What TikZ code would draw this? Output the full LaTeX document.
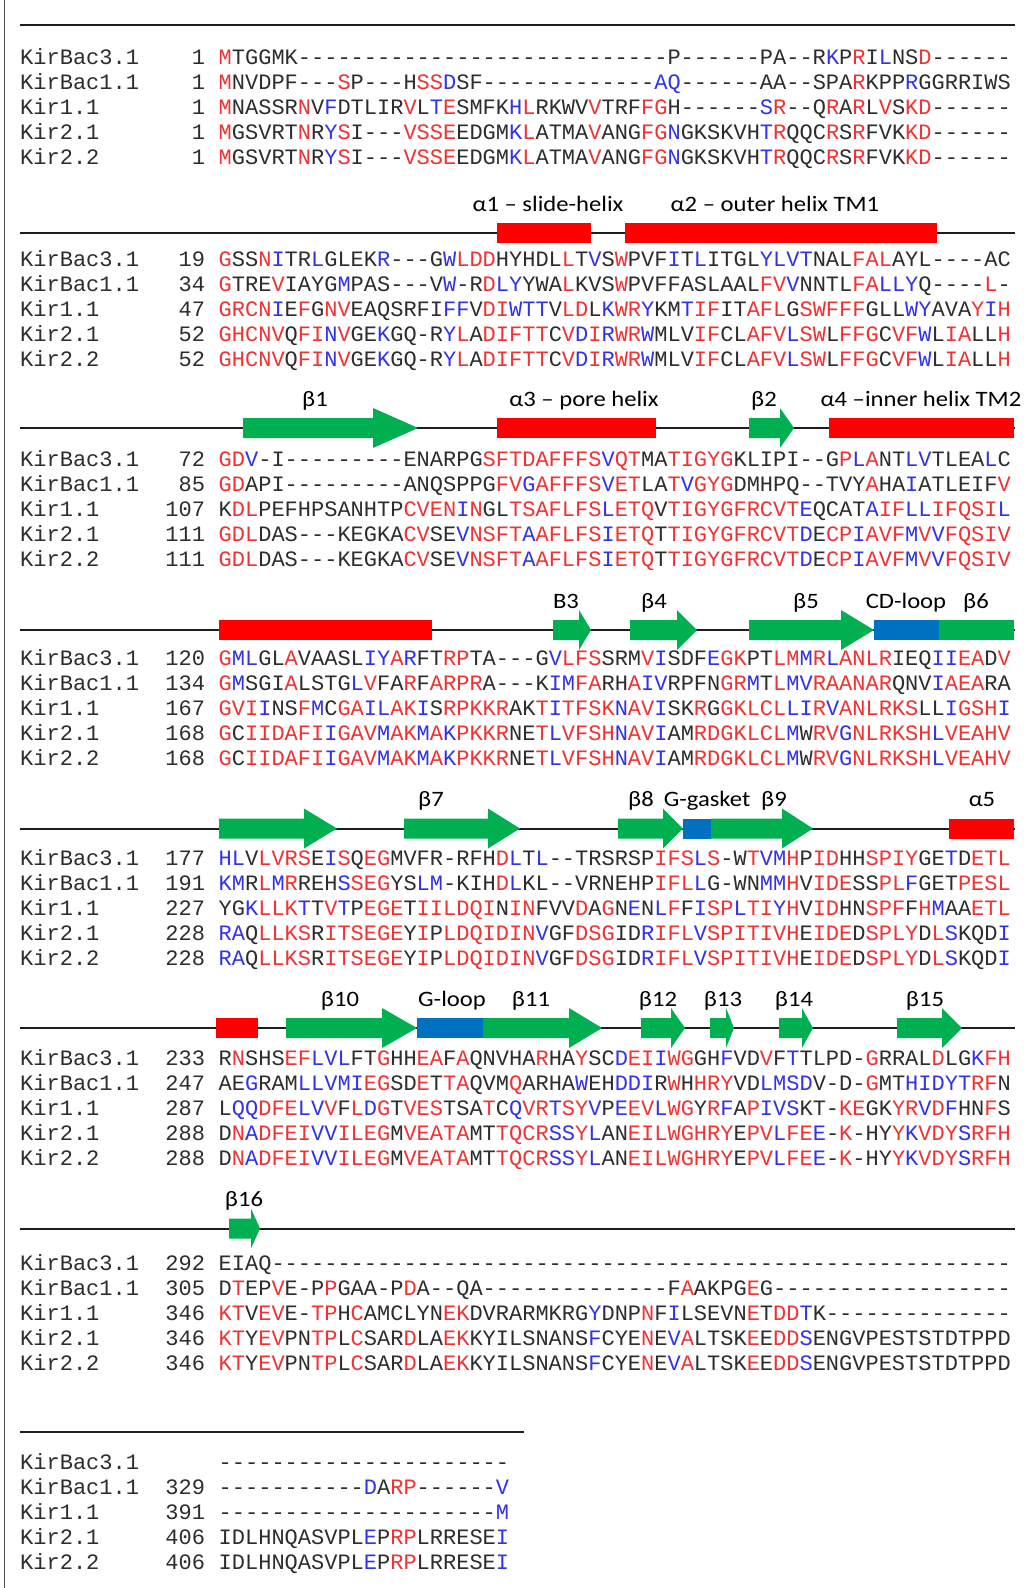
\documentclass[tikz,border=0pt]{standalone}
\usepackage{fontspec}
\usepackage{graphicx}
\setmonofont{Liberation Mono}
\newfontfamily\lblfont{Carlito}
\definecolor{txt}{RGB}{45,45,45}
\definecolor{sr}{RGB}{240,50,50}
\definecolor{sb}{RGB}{50,50,235}
\definecolor{hred}{RGB}{255,0,0}
\definecolor{sgreen}{RGB}{0,176,80}
\definecolor{lblue}{RGB}{0,112,192}
\definecolor{linec}{RGB}{30,30,30}
\newcommand\Rd[1]{\textcolor{sr}{#1}}
\newcommand\Bl[1]{\textcolor{sb}{#1}}
\ExplSyntaxOn
\cs_new:Npn \dsh #1 { \prg_replicate:nn {#1} {-} }
\ExplSyntaxOff
\tikzset{
  seqtxt/.style={inner sep=0pt, text=txt, font=\ttfamily\fontsize{22}{22}\selectfont},
  nm/.style={seqtxt, anchor=base west},
  nr/.style={seqtxt, anchor=base east},
  sq/.style={seqtxt, anchor=base west},
  lbl/.style={inner sep=0pt, anchor=base, text=black, font=\lblfont\fontsize{22}{22}\selectfont},
  seqline/.style={draw=linec, line width=2pt},
  hbar/.style={fill=hred},
  sarrow/.style={fill=sgreen},
  loopbar/.style={fill=lblue},
}
\newcommand\seqrow[5]{%
  \node[nm] (nm-#1) at (20,#2) {#3};
  \node[nr] (nr-#1) at (205.3,#2) {#4};
  \node[sq] (sq-#1) at (218.5,#2) {#5};}
\newcommand\strand[4]{% x1, head start, tip, y
  \fill[sarrow] (#1,#4-10) -- (#2,#4-10) -- (#2,#4-20) -- (#3,#4) -- (#2,#4+20) -- (#2,#4+10) -- (#1,#4+10) -- cycle;}
\newcommand\helix[3]{\fill[hbar] (#1,#3-10) rectangle (#2,#3+10);}
\newcommand\loopb[3]{\fill[loopbar] (#1,#3-10) rectangle (#2,#3+10);}
\newcommand\lab[4]{\node[lbl] (#1) at (#2,#3) {\scalebox{1.12}[1]{#4}};}
\begin{document}
\begin{tikzpicture}[x=1pt,y=-1pt]
\useasboundingbox (0,0) rectangle (1026,1588);
\fill[white] (0,0) rectangle (1026,1588);
\draw[draw=black!70, line width=1.5pt] (4.5,0) -- (4.5,1588);
% top line
\draw[seqline] (20,25.3) -- (1015,25.3);
% ---------- block 1
\seqrow{1a}{64.3}{KirBac3.1}{1}{\Rd{M}TGGMK\dsh{28}P\dsh{6}PA\dsh{2}R\Bl{K}P\Rd{R}I\Bl{L}NS\Rd{D}\dsh{6}}
\seqrow{1b}{89.3}{KirBac1.1}{1}{\Rd{M}NVDPF\dsh{3}\Rd{S}P\dsh{3}H\Rd{SS}\Bl{D}SF\dsh{13}\Bl{AQ}\dsh{6}AA\dsh{2}SPA\Rd{R}KPP\Bl{R}GGRRIWS}
\seqrow{1c}{114.3}{Kir1.1}{1}{\Rd{M}NASSR\Rd{N}V\Bl{F}DTLIR\Rd{V}L\Bl{T}\Rd{E}SMFK\Bl{H}\Rd{L}RKWV\Rd{V}TRF\Rd{FG}H\dsh{6}\Bl{S}\Rd{R}\dsh{2}Q\Rd{R}A\Rd{R}L\Rd{V}S\Rd{KD}\dsh{6}}
\seqrow{1d}{139.3}{Kir2.1}{1}{\Rd{M}GSVRT\Rd{N}R\Bl{Y}\Rd{S}I\dsh{3}\Rd{VSSE}EDGM\Bl{K}\Rd{L}ATMA\Rd{V}ANG\Rd{FG}\Bl{N}GKSKVH\Bl{T}\Rd{R}QQC\Rd{R}S\Rd{R}FVK\Rd{KD}\dsh{6}}
\seqrow{1e}{164.3}{Kir2.2}{1}{\Rd{M}GSVRT\Rd{N}R\Bl{Y}\Rd{S}I\dsh{3}\Rd{VSSE}EDGM\Bl{K}\Rd{L}ATMA\Rd{V}ANG\Rd{FG}\Bl{N}GKSKVH\Bl{T}\Rd{R}QQC\Rd{R}S\Rd{R}FVK\Rd{KD}\dsh{6}}
% ---------- block 2
\draw[seqline] (20,233) -- (1015,233);
\helix{497}{591}{233}
\helix{625}{937}{233}
\lab{lab-a1}{548}{211}{α1 – slide-helix}
\lab{lab-a2}{775}{211}{α2 – outer helix TM1}
\seqrow{2a}{266.3}{KirBac3.1}{19}{\Rd{G}SS\Rd{N}\Bl{I}TR\Bl{L}GLEK\Bl{R}\dsh{3}G\Bl{W}\Rd{LDD}HYHDL\Rd{L}T\Bl{V}S\Rd{W}PVF\Bl{I}T\Bl{L}ITGL\Bl{YLVT}NAL\Rd{FAL}AYL\dsh{4}AC}
\seqrow{2b}{291.3}{KirBac1.1}{34}{\Rd{G}TRE\Rd{V}IAYG\Bl{M}PAS\dsh{3}V\Bl{W}-R\Rd{D}\Bl{LY}YWA\Rd{L}KVS\Rd{W}PVFFASLAAL\Rd{FV}\Bl{V}NNTL\Rd{FA}\Bl{LLY}Q\dsh{4}\Rd{L}-}
\seqrow{2c}{316.3}{Kir1.1}{47}{\Rd{GRCN}\Bl{I}E\Rd{F}G\Rd{NV}EAQSRFI\Bl{FF}V\Rd{DI}\Bl{WTT}V\Rd{LD}L\Bl{K}\Rd{WR}\Bl{Y}KM\Bl{T}\Rd{IF}IT\Rd{AFL}G\Rd{SWFFF}GLL\Bl{WY}AVA\Rd{Y}\Bl{I}\Rd{H}}
\seqrow{2d}{341.3}{Kir2.1}{52}{\Rd{GHCNV}Q\Rd{FI}\Bl{N}\Rd{V}GE\Bl{K}GQ-R\Bl{Y}\Rd{L}A\Rd{DIFTT}C\Rd{V}\Bl{D}\Rd{I}\Bl{R}\Rd{WR}\Bl{W}MLV\Rd{IF}CL\Rd{AFV}\Bl{L}\Rd{SW}L\Rd{FFG}C\Rd{VF}\Bl{W}L\Rd{IA}LL\Rd{H}}
\seqrow{2e}{366.3}{Kir2.2}{52}{\Rd{GHCNV}Q\Rd{FI}\Bl{N}\Rd{V}GE\Bl{K}GQ-R\Bl{Y}\Rd{L}A\Rd{DIFTT}C\Rd{V}\Bl{D}\Rd{I}\Bl{R}\Rd{WR}\Bl{W}MLV\Rd{IF}CL\Rd{AFV}\Bl{L}\Rd{SW}L\Rd{FFG}C\Rd{VF}\Bl{W}L\Rd{IA}LL\Rd{H}}
% ---------- block 3
\draw[seqline] (20,428) -- (1015,428);
\strand{243}{373}{418}{428}
\helix{497}{656}{428}
\strand{749}{780}{794}{428}
\helix{829}{1014}{428}
\lab{lab-b1}{315}{406}{β1}
\lab{lab-a3}{584}{406}{α3 – pore helix}
\lab{lab-b2}{764}{406}{β2}
\lab{lab-a4}{921}{406}{α4 –inner helix TM2}
\seqrow{3a}{466.3}{KirBac3.1}{72}{\Rd{GD}\Bl{V}-I\dsh{9}ENARPG\Rd{SFTDAFFFS}\Bl{V}\Rd{QT}MA\Rd{TIGYG}KLIPI\dsh{2}G\Rd{P}\Bl{L}\Rd{A}NT\Bl{LV}TLEA\Bl{L}C}
\seqrow{3b}{491.3}{KirBac1.1}{85}{\Rd{GD}API\dsh{9}ANQSPPG\Rd{FV}\Bl{G}\Rd{AFFFS}\Bl{V}\Rd{ET}LA\Rd{T}\Bl{V}\Rd{GYG}DMHPQ\dsh{2}TVY\Rd{A}HA\Bl{I}ATLEIF\Rd{V}}
\seqrow{3c}{516.3}{Kir1.1}{107}{K\Rd{DL}PEFHPSANHTP\Rd{CVEN}\Bl{I}\Rd{N}GL\Rd{TSAFLFS}\Bl{L}\Rd{ETQ}V\Rd{TIGYGFRCVT}\Bl{E}QCAT\Bl{A}\Rd{IF}\Bl{LL}\Rd{IFQSI}\Bl{L}}
\seqrow{3d}{541.3}{Kir2.1}{111}{\Rd{GDL}DAS\dsh{3}KEGKA\Rd{CV}SE\Bl{V}\Rd{NSFT}\Bl{A}\Rd{AFLFS}\Bl{I}\Rd{ETQ}T\Rd{TIGYGFRCVT}\Bl{D}E\Rd{CP}\Bl{I}\Rd{AVF}\Bl{M}\Rd{V}\Bl{V}\Rd{FQSIV}}
\seqrow{3e}{566.3}{Kir2.2}{111}{\Rd{GDL}DAS\dsh{3}KEGKA\Rd{CV}SE\Bl{V}\Rd{NSFT}\Bl{A}\Rd{AFLFS}\Bl{I}\Rd{ETQ}T\Rd{TIGYGFRCVT}\Bl{D}E\Rd{CP}\Bl{I}\Rd{AVF}\Bl{M}\Rd{V}\Bl{V}\Rd{FQSIV}}
% ---------- block 4
\draw[seqline] (20,630) -- (1015,630);
\helix{219}{432}{630}
\strand{553}{579}{591}{630}
\strand{630}{677}{697}{630}
\strand{749}{841}{874}{630}
\loopb{874}{939}{630}
\fill[sarrow] (939,620) rectangle (1014,640);
\lab{lab-b3}{566}{608}{B3}
\lab{lab-b4}{654}{608}{β4}
\lab{lab-b5}{806}{608}{β5}
\lab{lab-cd}{906}{608}{CD-loop}
\lab{lab-b6}{976}{608}{β6}
\seqrow{4a}{665}{KirBac3.1}{120}{\Rd{G}\Bl{ML}GL\Rd{A}VAASL\Bl{IY}\Rd{A}\Bl{R}FT\Rd{RP}TA\dsh{3}G\Bl{V}\Rd{LFS}SRM\Rd{V}\Bl{I}SDF\Bl{E}\Rd{GK}PT\Rd{LM}\Bl{M}\Rd{R}\Bl{L}\Rd{ANLR}IEQ\Bl{II}\Rd{EA}D\Rd{V}}
\seqrow{4b}{690}{KirBac1.1}{134}{\Rd{G}\Bl{M}SGI\Rd{A}LSTG\Bl{L}\Rd{V}FA\Rd{R}F\Rd{ARPR}A\dsh{3}K\Bl{IM}\Rd{FA}RH\Rd{A}\Bl{IV}RPFN\Rd{GR}\Bl{M}T\Rd{L}\Bl{MV}\Rd{RAANAR}QNV\Bl{I}\Rd{AEA}RA}
\seqrow{4c}{715}{Kir1.1}{167}{\Rd{GVI}\Bl{I}NS\Rd{F}\Bl{M}C\Rd{GA}\Bl{IL}\Rd{AK}\Bl{I}S\Rd{RPKKR}AK\Rd{T}\Bl{I}\Rd{TFSK}\Bl{N}\Rd{AV}\Bl{I}SK\Rd{R}G\Rd{GKLCL}\Bl{LI}\Rd{R}\Bl{V}\Rd{ANLRKS}LL\Bl{I}\Rd{GSH}\Bl{I}}
\seqrow{4d}{740}{Kir2.1}{168}{\Rd{G}C\Rd{IIDAFI}\Bl{I}\Rd{GAV}\Bl{M}\Rd{AK}\Bl{M}\Rd{A}\Bl{K}\Rd{PKKR}NE\Rd{T}\Bl{L}\Rd{VFSH}\Bl{N}\Rd{AV}\Bl{I}AM\Rd{RDGKLCL}\Bl{M}W\Rd{RV}\Bl{G}\Rd{NLRKSH}\Bl{L}\Rd{VEAHV}}
\seqrow{4e}{765}{Kir2.2}{168}{\Rd{G}C\Rd{IIDAFI}\Bl{I}\Rd{GAV}\Bl{M}\Rd{AK}\Bl{M}\Rd{A}\Bl{K}\Rd{PKKR}NE\Rd{T}\Bl{L}\Rd{VFSH}\Bl{N}\Rd{AV}\Bl{I}AM\Rd{RDGKLCL}\Bl{M}W\Rd{RV}\Bl{G}\Rd{NLRKSH}\Bl{L}\Rd{VEAHV}}
% ---------- block 5
\draw[seqline] (20,828.5) -- (1015,828.5);
\strand{219}{304}{337}{828.5}
\strand{404}{488}{520}{828.5}
\strand{618}{663}{683}{828.5}
\loopb{683}{711}{828.5}
\strand{711}{782}{813}{828.5}
\helix{949}{1014}{828.5}
\lab{lab-b7}{431}{806.5}{β7}
\lab{lab-b8}{641}{806.5}{β8}
\lab{lab-gg}{707}{806.5}{G-gasket}
\lab{lab-b9}{774}{806.5}{β9}
\lab{lab-a5}{982}{806.5}{α5}
\seqrow{5a}{865.5}{KirBac3.1}{177}{\Bl{HL}V\Rd{LVRS}E\Bl{I}\Rd{S}Q\Rd{EG}MVFR-RFH\Rd{D}\Bl{L}T\Bl{L}\dsh{2}TRSRSP\Rd{IFS}\Bl{L}\Rd{S}-W\Rd{T}\Bl{VM}\Rd{H}P\Rd{ID}HH\Rd{SPIY}GE\Bl{T}D\Rd{ETL}}
\seqrow{5b}{890.5}{KirBac1.1}{191}{\Bl{KM}R\Rd{L}\Bl{M}\Rd{R}REH\Bl{S}\Rd{SEG}YS\Bl{LM}-KIH\Rd{D}\Bl{L}KL\dsh{2}VRNEHP\Rd{IFL}\Bl{L}G-WN\Bl{MM}\Rd{H}V\Rd{IDE}SS\Rd{PL}\Bl{F}GET\Rd{PESL}}
\seqrow{5c}{915.5}{Kir1.1}{227}{YG\Bl{K}\Rd{LLK}\Bl{T}T\Rd{V}\Bl{T}P\Rd{EGE}T\Rd{IILDQI}N\Rd{IN}FVV\Rd{D}A\Rd{G}N\Bl{E}N\Bl{L}\Rd{F}F\Bl{I}\Rd{SP}\Bl{L}\Rd{TI}\Bl{Y}\Rd{H}V\Rd{ID}HN\Rd{SPF}F\Rd{H}\Bl{M}AA\Rd{ETL}}
\seqrow{5d}{940.5}{Kir2.1}{228}{\Bl{RA}Q\Rd{LLKS}R\Rd{ITSEGE}Y\Rd{I}P\Rd{LDQIDIN}\Bl{V}GF\Rd{DSG}ID\Bl{R}\Rd{IFL}\Bl{V}\Rd{SPITIVH}E\Rd{IDE}D\Rd{SPLY}D\Rd{L}\Bl{S}KQD\Bl{I}}
\seqrow{5e}{965.5}{Kir2.2}{228}{\Bl{RA}Q\Rd{LLKS}R\Rd{ITSEGE}Y\Rd{I}P\Rd{LDQIDIN}\Bl{V}GF\Rd{DSG}ID\Bl{R}\Rd{IFL}\Bl{V}\Rd{SPITIVH}E\Rd{IDE}D\Rd{SPLY}D\Rd{L}\Bl{S}KQD\Bl{I}}
% ---------- block 6
\draw[seqline] (20,1028) -- (1015,1028);
\helix{216}{258}{1028}
\strand{286}{382}{417}{1028}
\loopb{417}{483}{1028}
\strand{483}{569}{602}{1028}
\strand{641}{671}{685}{1028}
\strand{710}{726}{734}{1028}
\strand{779}{802}{813}{1028}
\strand{897}{942}{962}{1028}
\lab{lab-b10}{340}{1006}{β10}
\lab{lab-gl}{452}{1006}{G-loop}
\lab{lab-b11}{531}{1006}{β11}
\lab{lab-b12}{658}{1006}{β12}
\lab{lab-b13}{723}{1006}{β13}
\lab{lab-b14}{794}{1006}{β14}
\lab{lab-b15}{925}{1006}{β15}
\seqrow{6a}{1065.5}{KirBac3.1}{233}{R\Rd{N}SHS\Rd{EF}\Bl{LVL}FT\Rd{G}HH\Rd{EA}F\Rd{A}QNVHA\Rd{R}HA\Rd{Y}SC\Bl{D}\Rd{EI}\Bl{I}\Rd{WG}GH\Bl{F}VD\Rd{V}F\Bl{T}TLPD-\Rd{G}RRAL\Rd{D}LG\Bl{K}\Rd{FH}}
\seqrow{6b}{1090.5}{KirBac1.1}{247}{AE\Bl{G}RAM\Bl{LLVMI}\Rd{EG}SD\Rd{E}T\Rd{TA}QVM\Rd{Q}ARHA\Bl{W}EH\Bl{DDI}R\Rd{W}H\Rd{HRY}VD\Bl{LMSD}V-D-\Rd{G}MT\Bl{HIDYT}\Rd{RF}N}
\seqrow{6c}{1115.5}{Kir1.1}{287}{L\Bl{QQ}\Rd{DFE}\Bl{LV}\Rd{V}F\Rd{L}\Bl{D}\Rd{G}T\Rd{VES}TSA\Rd{T}C\Bl{Q}\Rd{VR}\Bl{T}\Rd{SY}\Bl{V}P\Bl{E}\Rd{EV}\Bl{L}\Rd{WG}Y\Rd{R}\Bl{F}A\Rd{P}\Bl{IVS}KT-\Rd{KE}GK\Rd{YR}\Bl{V}\Rd{D}\Bl{F}HN\Rd{F}S}
\seqrow{6d}{1140.5}{Kir2.1}{288}{D\Rd{N}\Bl{A}\Rd{DFEI}\Bl{VV}\Rd{ILEG}M\Rd{VEATA}MT\Rd{TQCR}\Bl{SS}\Rd{Y}\Bl{L}AN\Rd{EILWGHRY}E\Rd{PV}\Bl{L}\Rd{FE}\Bl{E}-\Rd{K}-HY\Rd{Y}\Bl{K}\Rd{VDY}\Bl{S}\Rd{RFH}}
\seqrow{6e}{1165.5}{Kir2.2}{288}{D\Rd{N}\Bl{A}\Rd{DFEI}\Bl{VV}\Rd{ILEG}M\Rd{VEATA}MT\Rd{TQCR}\Bl{SS}\Rd{Y}\Bl{L}AN\Rd{EILWGHRY}E\Rd{PV}\Bl{L}\Rd{FE}\Bl{E}-\Rd{K}-HY\Rd{Y}\Bl{K}\Rd{VDY}\Bl{S}\Rd{RFH}}
% ---------- block 7
\draw[seqline] (20,1228.5) -- (1015,1228.5);
\strand{229}{251}{260}{1228.5}
\lab{lab-b16}{244}{1206.5}{β16}
\seqrow{7a}{1270.3}{KirBac3.1}{292}{EIAQ\dsh{56}}
\seqrow{7b}{1295.3}{KirBac1.1}{305}{D\Rd{T}EP\Rd{V}E-P\Rd{P}GAA-P\Rd{D}A\dsh{2}QA\dsh{14}F\Rd{A}AKPG\Rd{E}G\dsh{18}}
\seqrow{7c}{1320.3}{Kir1.1}{346}{\Rd{KT}V\Rd{EV}E-\Rd{TP}H\Rd{C}AMCLYN\Rd{EK}DVRARMKRG\Bl{Y}DNP\Rd{N}F\Bl{I}LSEVN\Rd{E}T\Rd{DD}\Bl{T}K\dsh{14}}
\seqrow{7d}{1345.3}{Kir2.1}{346}{\Rd{KT}Y\Rd{EV}PN\Rd{TP}L\Rd{C}SAR\Rd{D}LA\Rd{EK}KYILSNANS\Bl{F}CYE\Rd{N}E\Bl{V}\Rd{A}LTSK\Rd{E}E\Rd{DD}\Bl{S}ENGVPESTSTDTPPD}
\seqrow{7e}{1370.3}{Kir2.2}{346}{\Rd{KT}Y\Rd{EV}PN\Rd{TP}L\Rd{C}SAR\Rd{D}LA\Rd{EK}KYILSNANS\Bl{F}CYE\Rd{N}E\Bl{V}\Rd{A}LTSK\Rd{E}E\Rd{DD}\Bl{S}ENGVPESTSTDTPPD}
% ---------- block 8
\draw[seqline] (20,1432) -- (524,1432);
\seqrow{8a}{1469.5}{KirBac3.1}{}{\dsh{22}}
\seqrow{8b}{1494.5}{KirBac1.1}{329}{\dsh{11}\Bl{D}A\Rd{RP}\dsh{6}\Bl{V}}
\seqrow{8c}{1519.5}{Kir1.1}{391}{\dsh{21}\Bl{M}}
\seqrow{8d}{1544.5}{Kir2.1}{406}{IDLHNQASVPL\Bl{E}P\Rd{RP}LRRESE\Bl{I}}
\seqrow{8e}{1569.5}{Kir2.2}{406}{IDLHNQASVPL\Bl{E}P\Rd{RP}LRRESE\Bl{I}}
\end{tikzpicture}
\end{document}
